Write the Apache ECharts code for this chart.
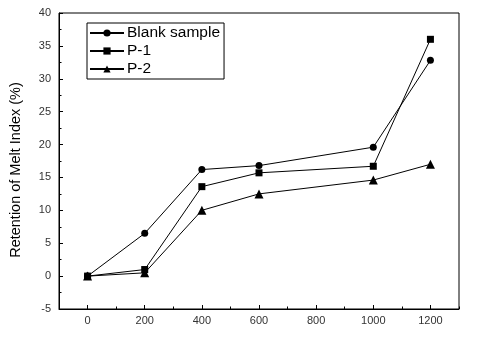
<!DOCTYPE html>
<html>
<head>
<meta charset="utf-8">
<script src="https://cdn.jsdelivr.net/npm/echarts@6/dist/echarts.min.js"></script>
<style>html,body{margin:0;padding:0;background:#fff}#c{width:478px;height:356px}</style>
</head>
<body>
<div id="c"></div>
<script>
const xValues = [0, 200, 400, 600, 1000, 1200];
const blankSample = [0, 6.5, 16.2, 16.8, 19.6, 32.8];
const p1 = [0, 1.0, 13.6, 15.7, 16.7, 36.0];
const p2 = [0, 0.5, 10.0, 12.5, 14.6, 17.0];
const seriesNames = ['Blank sample', 'P-1', 'P-2'];
const yTitle = 'Retention of Melt Index (%)';
const xMajorTicks = [0, 200, 400, 600, 800, 1000, 1200];
const xMinorTicks = [-100, 100, 300, 500, 700, 900, 1100, 1300];

const pair = arr => xValues.map((x, i) => [x, arr[i]]);
const font = '"Liberation Sans", Arial, sans-serif';

const chart = echarts.init(document.getElementById('c'), null, {renderer: 'canvas'});
const mk = (name, data, symbol, size) => ({
  name, type: 'line', data: pair(data), symbol, symbolSize: size,
  lineStyle: {color: '#000', width: 1}, itemStyle: {color: '#000'},
  emphasis: {disabled: true}, animation: false
});
chart.setOption({
  backgroundColor: '#fff',
  animation: false,
  grid: {left: 58, right: 19, top: 13, bottom: 47, show: true, borderColor: '#000', borderWidth: 1},
  legend: {
    left: 87, top: 23, orient: 'vertical',
    data: seriesNames,
    itemWidth: 34, itemHeight: 9, itemGap: 2,
    padding: [2, 4, 2, 2],
    borderColor: '#000', borderWidth: 1,
    textStyle: {fontFamily: font, fontSize: 15.5, color: '#000', padding: [0, 0, 0, -2]}
  },
  xAxis: [{
    type: 'value', min: -100, max: 1300, interval: 100,
    axisLine: {onZero: false, lineStyle: {color: '#000', width: 1}},
    axisTick: {inside: true, length: 4, customValues: xMajorTicks, lineStyle: {color: '#000'}},
    splitLine: {show: false},
    axisLabel: {
      margin: 6, color: '#333', fontFamily: font, fontSize: 11,
      customValues: xMajorTicks,
      formatter: v => String(v)
    }
  }, {
    type: 'value', min: -100, max: 1300, interval: 100, position: 'bottom',
    axisLine: {show: false, onZero: false},
    axisTick: {inside: true, length: 2.5, customValues: xMinorTicks, lineStyle: {color: '#000'}},
    axisLabel: {show: false},
    splitLine: {show: false}
  }],
  yAxis: {
    type: 'value', min: -5, max: 40, interval: 5,
    name: yTitle, nameLocation: 'middle', nameGap: 36,
    nameTextStyle: {fontFamily: font, fontSize: 14.5, color: '#000', padding: [0, 0, 0, -18]},
    axisLine: {onZero: false, lineStyle: {color: '#000', width: 1}},
    axisTick: {inside: true, length: 4, lineStyle: {color: '#000'}},
    minorTick: {show: true, splitNumber: 2, length: 2.5, lineStyle: {color: '#000'}},
    splitLine: {show: false},
    axisLabel: {margin: 8, color: '#333', fontFamily: font, fontSize: 11}
  },
  series: [
    mk(seriesNames[0], blankSample, 'circle', 7),
    mk(seriesNames[1], p1, 'rect', 7),
    mk(seriesNames[2], p2, 'triangle', 9)
  ]
});
</script>
</body>
</html>
